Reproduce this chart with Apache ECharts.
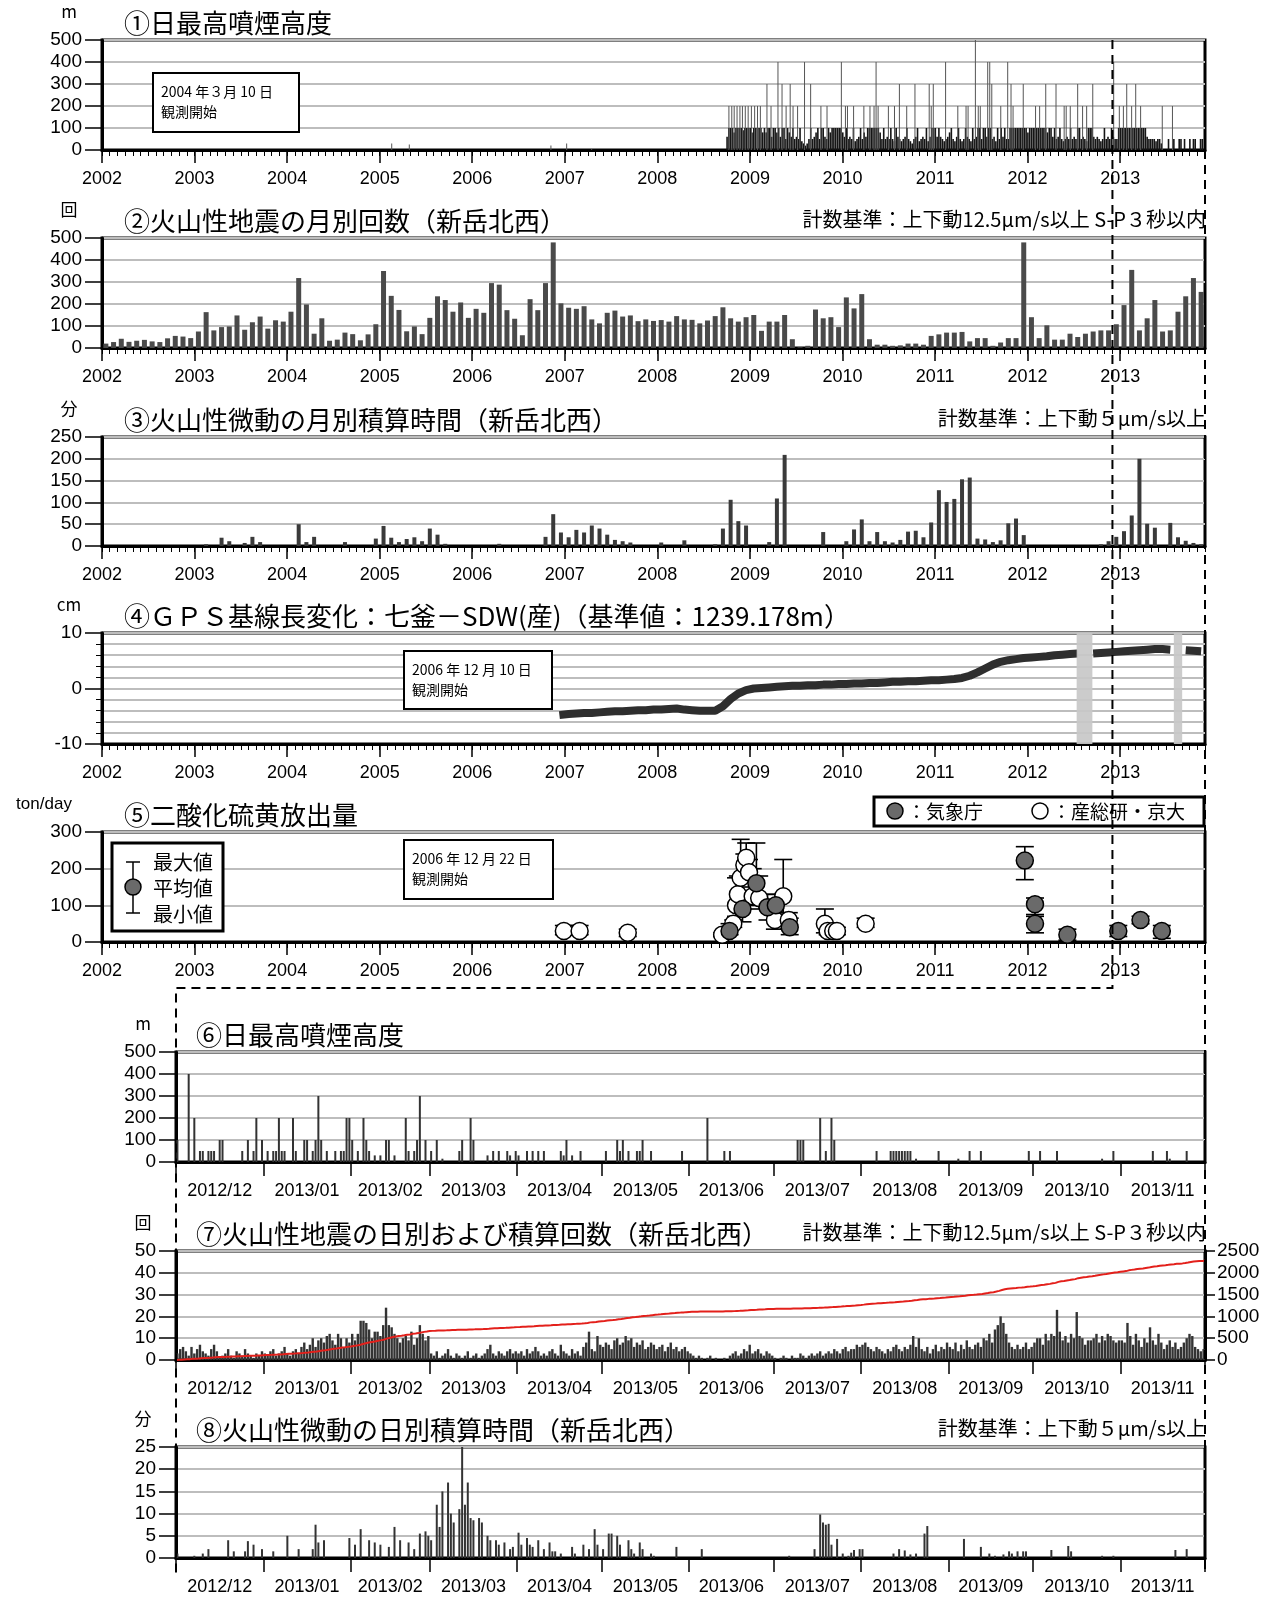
<!DOCTYPE html>
<html><head><meta charset="utf-8">
<script src="https://cdn.jsdelivr.net/npm/echarts@6/dist/echarts.min.js"></script>
<style>html,body{margin:0;padding:0;background:#fff}#c{width:1278px;height:1600px}</style>
</head><body><div id="c"></div>
<script>
// ======================= DATA =======================
const yearLabels = [2002,2003,2004,2005,2006,2007,2008,2009,2010,2011,2012,2013];
const monthLabels = ['2012/12','2013/01','2013/02','2013/03','2013/04','2013/05','2013/06','2013/07','2013/08','2013/09','2013/10','2013/11'];
const monthStartDays = [0,31,62,90,121,151,182,212,243,274,304,335,365];

// (1) daily max plume height, summarised weekly from 2008.75, plus distinct taller plumes [decimal year, m]
const plumeWeekStart = 2008.75;
const plumeWeekly = [
 60,100,100,100,80,100,100,100,100,90,100,100,100,100,80,100,100,100,100,100,80,
 100,80,100,100,60,100,100,80,100,60,100,100,50,100,80,60,100,50,
 60,50,100,40,30,20,30,50,100,50,60,80,100,50,100,100,60,50,100,80,100,100,
 100,100,100,100,80,60,100,50,60,50,100,40,50,60,100,50,80,60,100,100,100,100,100,100,100,80,50,100,50,60,
 50,100,50,40,100,60,50,40,50,60,100,50,40,30,50,60,100,40,50,60,50,100,40,60,100,100,100,60,
 100,60,50,40,50,60,80,100,50,40,60,100,50,40,50,100,60,50,40,100,50,60,100,100,50,100,
 100,60,100,100,50,60,40,100,50,100,60,100,50,50,100,100,100,100,100,100,100,100,100,100,80,100,100,100,100,100,100,100,100,100,100,80,100,100,60,100,
 50,60,100,50,40,50,60,50,100,50,60,50,100,100,50,60,50,40,100,100,100,60,50,60,50,40,50,100,50,60,50,100,60,50,50,
 100,100,100,100,100,100,100,100,100,100,100,100,100,100,100,100,60,
 50,50,50,50,40,50,50,30,
 0,0,0,50,0,0,50,0,0,50,50,0,50,0,0,50,0,50,50,0,0,50,50,0,50,0,50,50
];
const plumeSpikes = [
 [2005.13,30],[2005.32,25],[2006.85,20],[2007.02,30],[2007.29,5],
 [2008.773,200],[2008.804,200],[2008.830,200],[2008.861,200],[2008.892,200],[2008.919,200],[2008.950,200],[2008.981,200],
 [2009.016,200],[2009.051,200],[2009.082,200],[2009.113,200],[2009.184,300],[2009.228,200],[2009.303,400],[2009.347,300],
 [2009.391,200],[2009.435,300],[2009.466,200],[2009.515,200],[2009.590,400],[2009.656,300],[2009.767,200],[2009.833,200],
 [2009.988,400],[2010.032,200],[2010.054,200],[2010.120,200],[2010.231,200],[2010.297,200],[2010.341,200],[2010.363,400],
 [2010.385,200],[2010.496,200],[2010.562,200],[2010.615,300],[2010.694,200],[2010.783,300],[2010.937,300],[2010.959,200],
 [2010.981,300],[2011.114,400],[2011.246,200],[2011.335,200],[2011.357,200],[2011.436,500],[2011.467,200],[2011.489,200],
 [2011.569,400],[2011.591,400],[2011.613,300],[2011.710,200],[2011.785,400],[2011.821,300],[2011.843,200],[2011.953,300],
 [2012.086,200],[2012.130,200],[2012.196,300],[2012.307,300],[2012.395,200],[2012.417,200],[2012.461,200],[2012.541,300],
 [2012.594,200],[2012.638,200],[2012.704,300],[2012.930,400],[2012.991,200],[2013.035,200],[2013.071,300],[2013.124,200],
 [2013.168,300],[2013.221,200],[2013.455,200],[2013.565,200]
];

// (2) monthly volcanic earthquakes, Jan 2002 - Nov 2013
const quakeMonthly = [
 20,27,42,28,33,37,30,27,44,55,52,45,
 75,163,80,95,98,148,83,117,143,88,126,120,
 165,318,198,65,135,33,38,70,63,35,62,108,
 350,237,173,76,98,63,137,235,218,165,207,137,
 178,160,295,288,172,133,58,222,172,295,480,203,
 183,178,190,130,112,160,170,143,148,122,130,123,
 127,120,145,130,128,112,125,145,185,135,120,140,
 150,78,120,120,150,40,3,10,175,135,140,95,
 230,180,245,40,15,15,10,12,20,20,15,55,
 62,70,70,73,30,45,45,10,25,45,45,480,
 140,45,103,38,38,65,50,65,75,80,80,108,
 195,355,80,135,218,75,80,165,235,318,255
];

// (3) monthly tremor minutes, Jan 2002 - Nov 2013
const tremorMonthly = [
 0,0,0,0,0,0,0,0,0,0,0,0,
 0,4,0,19,11,0,7,21,9,0,0,0,
 0,50,9,21,0,0,0,9,0,0,0,17,
 46,19,9,16,20,11,40,26,5,0,0,0,
 0,0,0,5,0,0,0,0,0,21,73,31,
 20,37,31,47,40,26,14,11,8,0,0,0,
 8,0,0,13,0,0,0,4,40,106,57,47,
 0,0,9,109,209,0,0,0,0,32,0,0,
 11,38,61,11,32,11,8,14,33,35,20,54,
 128,101,108,153,157,17,15,9,13,52,63,25,
 0,0,0,0,0,0,0,0,0,4,11,21,
 34,70,200,51,42,0,53,20,12,7,4
];

// (4) GPS baseline change (cm), monthly from Dec 2006 to Nov 2013 (null = no data)
const gpsStartYearMonth = [2006, 12];
const gpsMonthly = [
 -4.8,
 -4.6,-4.5,-4.4,-4.4,-4.3,-4.2,-4.1,-4.1,-4.0,-3.9,-3.9,-3.8,
 -3.8,-3.7,-3.6,-3.8,-3.9,-4.0,-4.0,-4.0,-3.2,-1.9,-0.9,-0.3,
 0.0,0.1,0.2,0.3,0.4,0.5,0.5,0.6,0.6,0.7,0.7,0.8,
 0.8,0.9,0.9,1.0,1.0,1.1,1.2,1.2,1.3,1.3,1.4,1.5,
 1.5,1.6,1.7,1.9,2.3,2.9,3.6,4.3,4.8,5.1,5.3,5.5,
 5.6,5.7,5.8,6.0,6.1,6.2,6.3,null,6.3,6.4,6.5,6.6,
 6.7,6.8,6.9,7.0,7.1,7.1,7.0,null,6.9,6.8,6.7
];
const gpsGaps = [[2012.53,2012.70],[2013.58,2013.67]];

// (5) SO2 emission [decimal year, mean, min, max]
const so2Jma = [
 [2008.78,30,20,50],[2008.92,90,55,185],[2009.07,160,110,270],[2009.19,95,60,130],[2009.28,100,55,130],
 [2009.43,40,20,65],[2011.97,222,170,260],[2012.08,103,75,120],[2012.08,50,25,70],[2012.43,20,5,35],
 [2012.98,30,15,45],[2013.22,60,50,70],[2013.45,30,10,45]
];
const so2Aist = [
 [2006.99,30,20,45],[2007.16,30,20,45],[2007.68,25,15,35],[2008.70,20,15,25],[2008.82,50,40,60],
 [2008.85,100,70,175],[2008.87,130,100,180],[2008.90,175,140,280],[2008.94,210,170,240],[2008.96,230,200,270],
 [2008.99,190,150,225],[2009.03,125,100,200],[2009.10,120,90,180],[2009.27,60,35,85],[2009.36,125,80,225],
 [2009.42,60,35,80],[2009.81,50,25,90],[2009.84,30,20,45],[2009.90,30,20,40],[2009.94,30,20,40],[2010.25,50,40,65]
];

// (6) daily max plume height, Dec 2012 - Nov 2013 [day index from 2012/12/01, m]
const plumeDaily = [
 [0,100],[4,400],[6,200],[8,50],[9,50],[11,50],[12,50],[13,50],[15,100],[16,100],[23,50],[25,100],[27,50],[28,200],
 [30,100],[32,50],[34,50],[35,50],[36,200],[37,50],[38,50],[41,200],[42,50],[45,100],[46,100],[48,50],[49,100],[50,300],
 [51,100],[53,50],[56,50],[58,50],[59,50],[60,200],[61,200],[62,100],[64,50],[66,200],[67,100],[68,50],[70,30],[72,30],
 [74,100],[75,100],[77,30],[81,200],[82,50],[84,50],[85,100],[86,300],[88,100],[90,50],[92,100],[94,15],[100,50],[101,100],
 [104,200],[105,100],[110,30],[112,50],[114,50],[117,50],[118,30],[120,50],[121,30],[124,50],[126,50],[128,50],[130,50],
 [136,50],[137,30],[138,100],[140,30],[143,50],[152,50],[156,100],[157,50],[158,100],[160,50],[163,50],[164,50],[165,100],
 [168,50],[179,50],[188,200],[194,50],[196,50],[220,100],[221,100],[222,100],[228,200],[230,50],[232,200],[233,100],
 [248,50],[253,50],[254,50],[255,50],[256,50],[257,50],[258,50],[259,50],[260,50],[262,15],[270,50],[277,15],[281,50],
 [285,50],[302,50],[306,50],[312,50],[328,15],[332,50],[346,50],[351,50],[352,15],[358,50]
];

// (7) daily volcanic earthquakes, 2012/12/01 - 2013/11/30 (one row per month)
const quakeDaily = [
 3,5,6,4,2,6,3,5,7,4,3,2,5,7,4,1,2,3,5,2,1,4,3,2,5,3,2,1,3,2,4,
 3,2,4,5,2,3,4,6,3,2,4,5,3,6,8,5,7,10,6,9,10,8,11,12,9,7,12,10,6,10,8,
 12,9,12,18,18,17,14,10,13,13,11,16,24,16,15,12,10,8,10,11,9,13,7,10,16,12,9,11,
 3,2,4,1,2,3,5,2,1,3,2,1,2,4,1,2,3,1,2,3,5,7,3,2,4,3,2,4,5,3,4,
 3,4,2,5,3,4,6,4,2,3,2,4,5,3,2,7,4,3,2,5,3,4,2,6,8,13,5,4,11,7,
 6,8,7,5,9,10,7,8,11,9,10,6,8,7,9,5,6,8,7,5,6,7,4,6,8,5,6,4,5,6,4,
 3,2,1,2,1,0,1,2,0,1,0,0,1,0,2,3,4,2,3,5,4,7,3,4,5,3,2,4,3,2,
 1,0,1,2,1,0,2,1,1,3,2,1,2,3,2,3,4,2,3,4,3,5,4,3,5,6,4,5,5,7,6,
 7,8,6,5,4,6,5,4,3,5,4,6,7,5,4,6,5,7,11,6,10,5,4,6,3,5,7,4,6,5,8,
 6,5,8,4,7,5,9,6,5,7,8,6,10,9,12,8,14,16,20,17,12,8,6,5,7,5,6,8,5,6,
 8,10,10,7,12,9,12,11,23,13,9,11,8,12,10,22,11,10,7,9,9,10,12,8,11,9,12,11,9,8,9,
 9,8,17,11,7,12,9,6,10,8,15,9,7,12,8,5,7,9,6,8,5,6,8,10,12,11,6,5,4,5
];

// (8) daily tremor minutes [day index from 2012/12/01, minutes]
const tremorDaily = [
 [0,1],[6,0.5],[9,1],[11,2],[18,4],[20,1.5],[24,1.5],[25,3.8],[27,3],[30,2],[34,1.5],[39,5],[43,2],[48,2],[49,7.5],[50,3.5],
 [52,4],[61,4.5],[63,3],[65,6.5],[68,4],[70,3.5],[72,3],[75,2.5],[77,7],[79,4],[82,3.5],[84,2],[86,5.5],[88,6],[89,5],[90,4],
 [92,12],[93,7],[94,15],[96,17],[97,10],[98,8],[100,11],[101,25],[102,12],[103,17],[104,9],[105,8.5],[107,9],[108,8],[110,5],
 [111,4],[113,4],[114,3],[116,3.5],[118,2],[119,2.5],[121,5.7],[122,3],[124,4.5],[125,3],[126,2.5],[128,4],[130,2],[132,3.5],
 [133,1.5],[134,1.5],[136,1],[140,2.5],[141,1],[144,3],[146,2],[148,6.5],[149,3],[151,2],[153,5.5],[154,5.5],[156,5],[157,3],
 [160,4],[161,2],[162,1],[164,3.5],[165,2],[168,1],[169,0.5],[177,2.5],[186,2],[217,0.5],[226,2],[228,9.8],[229,8],[230,7.5],
 [231,7.7],[232,3],[234,4.3],[236,1],[238,0.5],[239,1.2],[240,1.8],[242,2],[243,2],[254,1],[256,2],[258,1.7],[260,0.8],[262,1],
 [265,5.5],[266,7.2],[279,4.3],[285,2.5],[288,1],[290,0.5],[293,0.8],[295,1.5],[296,1],[298,1.5],[300,1.5],[301,1.5],[310,1.8],
 [316,2.7],[317,1.5],[328,0.5],[332,0.5],[354,1.8],[358,2]
];

// ======================= TEXT =======================
const panelTitles = ['①日最高噴煙高度','②火山性地震の月別回数（新岳北西）','③火山性微動の月別積算時間（新岳北西）',
 '④ＧＰＳ基線長変化：七釜－SDW(産)（基準値：1239.178m）','⑤二酸化硫黄放出量','⑥日最高噴煙高度',
 '⑦火山性地震の日別および積算回数（新岳北西）','⑧火山性微動の日別積算時間（新岳北西）'];
const unitLabels = ['m','回','分','cm','ton/day','m','回','分'];
const criteriaText = ['', '計数基準：上下動12.5μm/s以上 S-P３秒以内', '計数基準：上下動５μm/s以上', '', '', '',
 '計数基準：上下動12.5μm/s以上 S-P３秒以内', '計数基準：上下動５μm/s以上'];
const noteTexts = [['2004 年３月 10 日','観測開始'],['2006 年 12 月 10 日','観測開始'],['2006 年 12 月 22 日','観測開始']];
const so2LegendLabels = ['最大値','平均値','最小値'];
const so2SourceLabels = ['：気象庁','：産総研・京大'];

// ======================= LAYOUT / STYLE =======================
const NUM = '"Liberation Sans", Arial, sans-serif';
const CJK = '"Noto Sans CJK JP", "Noto Sans CJK SC", sans-serif';
const GRID_TOP = [40,238,437,633,832,1052,1251,1447];
const GRID_H = [110,110,109,111,110,110,109,111];
const GRID_COLOR = '#bdbdbd';
const TOP_MAX = 143; // month index of 2013/12/01 (end of axis)

const toM = y => (y - 2002) * 12;            // decimal year -> month index
const yearTickMonths = yearLabels.map(y => (y - 2002) * 12);
const monthMidDays = monthLabels.map((_, i) => (monthStartDays[i] + monthStartDays[i + 1]) / 2);

const chart = echarts.init(document.getElementById('c'), null, {renderer: 'canvas', width: 1278, height: 1600});

const grids = GRID_TOP.map((t, i) => ({
  left: i < 5 ? 102 : 176, width: i < 5 ? 1103 : 1029, top: t, height: GRID_H[i],
  show: true, borderColor: '#000', borderWidth: 3, backgroundColor: 'transparent',
  containLabel: false, outerBoundsMode: 'none'
}));

function topXAxes(gi) {
  return [{
    type: 'value', gridIndex: gi, min: 0, max: TOP_MAX, interval: 12, position: 'bottom',
    axisLine: {show: true, onZero: false, lineStyle: {color: '#000', width: 3}},
    axisTick: {show: true, length: 13, lineStyle: {color: '#000', width: 1.5}, customValues: yearTickMonths},
    axisLabel: {show: true, margin: 20, fontSize: 18, color: '#000', fontFamily: NUM,
      customValues: yearTickMonths, formatter: v => String(2002 + Math.round(v / 12))},
    splitLine: {show: false}
  }, {
    type: 'value', gridIndex: gi, min: 0, max: TOP_MAX, interval: 1, position: 'bottom',
    axisLine: {show: false, onZero: false},
    axisTick: {show: true, length: 6, lineStyle: {color: '#000', width: 1}},
    axisLabel: {show: false}, splitLine: {show: false}
  }];
}
function bottomXAxis(gi) {
  return {
    type: 'value', gridIndex: gi, min: 0, max: 365, position: 'bottom',
    axisLine: {show: true, onZero: false, lineStyle: {color: '#000', width: 3}},
    axisTick: {show: true, length: 14, lineStyle: {color: '#000', width: 1.5}, customValues: monthStartDays},
    axisLabel: {show: true, margin: 20, fontSize: 18, color: '#000', fontFamily: NUM,
      customValues: monthMidDays, formatter: v => monthLabels[monthMidDays.indexOf(v)] || ''},
    splitLine: {show: false}
  };
}
function yAxisOf(gi, min, max, interval, extra) {
  return Object.assign({
    type: 'value', gridIndex: gi, min, max, interval,
    axisLine: {show: true, onZero: false, lineStyle: {color: '#000', width: 3}},
    axisTick: {show: true, length: 17, lineStyle: {color: '#000', width: 1.5}},
    axisLabel: {margin: 20, fontSize: 19, color: '#000', fontFamily: NUM, formatter: v => String(v)},
    splitLine: {show: true, lineStyle: {color: GRID_COLOR, width: 2}}
  }, extra || {});
}

const xAxes = [];
for (let g = 0; g < 5; g++) xAxes.push(...topXAxes(g));
xAxes.push(bottomXAxis(5), bottomXAxis(6), bottomXAxis(7));   // indices 10, 11, 12

const yAxes = [
  yAxisOf(0, 0, 500, 100),
  yAxisOf(1, 0, 500, 100),
  yAxisOf(2, 0, 250, 50),
  yAxisOf(3, -10, 10, 10, {minorTick: {show: true, splitNumber: 5, length: 6, lineStyle: {color: '#000'}},
    minorSplitLine: {show: true, lineStyle: {color: GRID_COLOR, width: 2}}}),
  yAxisOf(4, 0, 300, 100),
  yAxisOf(5, 0, 500, 100),
  yAxisOf(6, 0, 50, 10),
  yAxisOf(6, 0, 2500, 500, {position: 'right', splitLine: {show: false},
    axisTick: {show: true, length: 10, lineStyle: {color: '#000', width: 1.5}},
    axisLabel: {margin: 12, fontSize: 19, color: '#000', fontFamily: NUM, formatter: v => String(v)}}),
  yAxisOf(7, 0, 25, 5)
];

// derived series data
const plumeBaseData = plumeWeekly.map((v, i) => [toM(plumeWeekStart) + i * 12 / 52, v]);
const plumeSpikeData = plumeSpikes.map(([y, v]) => [toM(y), v]);
const quakeMonthData = quakeMonthly.map((v, i) => [i + 0.5, v]);
const tremorMonthData = tremorMonthly.map((v, i) => [i + 0.5, v]).filter(d => d[1] > 0);
const gpsStartM = (gpsStartYearMonth[0] - 2002) * 12 + gpsStartYearMonth[1] - 1;
const gpsData = gpsMonthly.map((v, i) => [gpsStartM + i + 0.5, v]);
gpsData[0][0] = gpsStartM + 0.3;
const gpsGapData = gpsGaps.map(([a, b]) => [toM(a), toM(b), -10, 10]);
const so2JmaData = so2Jma.map(([y, m, lo, hi]) => [toM(y), m, lo, hi]);
const so2AistData = so2Aist.map(([y, m, lo, hi]) => [toM(y), m, lo, hi]);
const plumeDailyData = plumeDaily.map(([d, v]) => [d + 0.5, v]);
const quakeDailyData = quakeDaily.map((v, i) => [i + 0.5, v]);
let run = 0;
const quakeCumData = [[0, 0]].concat(quakeDaily.map((v, i) => { run += v; return [i + 1, run]; }));
const tremorDailyData = tremorDaily.map(([d, v]) => [d + 0.5, v]);

function errorBars(params, api) {
  const x = api.value(0), lo = api.value(2), hi = api.value(3);
  const a = api.coord([x, lo]), b = api.coord([x, hi]);
  const w = 9, st = {stroke: '#000', lineWidth: 1.6};
  return {type: 'group', children: [
    {type: 'line', shape: {x1: a[0], y1: a[1], x2: b[0], y2: b[1]}, style: st},
    {type: 'line', shape: {x1: b[0] - w, y1: b[1], x2: b[0] + w, y2: b[1]}, style: st},
    {type: 'line', shape: {x1: a[0] - w, y1: a[1], x2: a[0] + w, y2: a[1]}, style: st}
  ]};
}
function gapBands(params, api) {
  const a = api.coord([api.value(0), api.value(3)]), b = api.coord([api.value(1), api.value(2)]);
  return {type: 'rect', shape: {x: a[0], y: a[1], width: b[0] - a[0], height: b[1] - a[1]},
    style: {fill: 'rgba(200,200,200,0.92)'}};
}

const series = [
  {type: 'bar', xAxisIndex: 0, yAxisIndex: 0, data: plumeBaseData, barWidth: 1.6, barGap: '-100%', itemStyle: {color: '#151515'}},
  {type: 'bar', xAxisIndex: 0, yAxisIndex: 0, data: plumeSpikeData, barWidth: 1, barGap: '-100%', itemStyle: {color: '#555'}},
  {type: 'bar', xAxisIndex: 2, yAxisIndex: 1, data: quakeMonthData, barWidth: 5, itemStyle: {color: '#4a4a4a'}},
  {type: 'bar', xAxisIndex: 4, yAxisIndex: 2, data: tremorMonthData, barWidth: 4, itemStyle: {color: '#3a3a3a'}},
  {type: 'line', xAxisIndex: 6, yAxisIndex: 3, data: gpsData, symbol: 'none', connectNulls: false,
    lineStyle: {color: '#2e2e2e', width: 8}, z: 3},
  {type: 'custom', xAxisIndex: 6, yAxisIndex: 3, data: gpsGapData, renderItem: gapBands,
    encode: {x: [0, 1], y: [2, 3]}, z: 5},
  {type: 'custom', xAxisIndex: 8, yAxisIndex: 4, data: so2AistData, renderItem: errorBars, encode: {x: 0, y: [1, 2, 3]}, z: 3},
  {type: 'custom', xAxisIndex: 8, yAxisIndex: 4, data: so2JmaData, renderItem: errorBars, encode: {x: 0, y: [1, 2, 3]}, z: 3},
  {type: 'scatter', name: so2SourceLabels[1], xAxisIndex: 8, yAxisIndex: 4, data: so2AistData.map(d => [d[0], d[1]]),
    symbolSize: 17, itemStyle: {color: '#fff', borderColor: '#000', borderWidth: 1.5, opacity: 1}, z: 4},
  {type: 'scatter', name: so2SourceLabels[0], xAxisIndex: 8, yAxisIndex: 4, data: so2JmaData.map(d => [d[0], d[1]]),
    symbolSize: 17, itemStyle: {color: '#6a6a6a', borderColor: '#000', borderWidth: 1.5, opacity: 1}, z: 4},
  {type: 'bar', xAxisIndex: 10, yAxisIndex: 5, data: plumeDailyData, barWidth: 2, itemStyle: {color: '#333'}},
  {type: 'bar', xAxisIndex: 11, yAxisIndex: 6, data: quakeDailyData, barWidth: 2.4, itemStyle: {color: '#333'}},
  {type: 'line', xAxisIndex: 11, yAxisIndex: 7, data: quakeCumData, symbol: 'none', lineStyle: {color: '#e3201b', width: 2}, z: 4},
  {type: 'bar', xAxisIndex: 12, yAxisIndex: 8, data: tremorDailyData, barWidth: 2, itemStyle: {color: '#333'}}
];

chart.setOption({animation: false, backgroundColor: '#fff', grid: grids, xAxis: xAxes, yAxis: yAxes, series: series});

// ======================= TEXT & DECORATION =======================
const G = [];
function txt(x, y, text, font, align, extra) {
  G.push(Object.assign({type: 'text', x, y, z: 100,
    style: {text, font, fill: '#000', textAlign: align || 'left', textVerticalAlign: 'middle'}}, extra || {}));
}
function box(x, y, w, h, lw) {
  G.push({type: 'rect', z: 99, shape: {x, y, width: w, height: h},
    style: {fill: '#fff', stroke: '#000', lineWidth: lw || 2}});
}
GRID_TOP.forEach((t, i) => {
  txt(i < 5 ? 124 : 196, t - 17, panelTitles[i], '26px ' + CJK);
  if (i === 4) txt(44, t - 28, unitLabels[i], '17px ' + NUM, 'center');
  else txt(i < 5 ? 69 : 143, t - 28, unitLabels[i], '17px ' + CJK, 'center');
  if (criteriaText[i]) txt(1206, t - 19, criteriaText[i], '20px ' + CJK, 'right');
});
// observation-start notes
const noteBoxes = [[153, 73, 146, 59], [404, 651, 148, 58], [404, 840, 149, 59]];
noteBoxes.forEach(([x, y, w, h], k) => {
  box(x, y, w, h, 2);
  txt(x + 8, y + 19, noteTexts[k][0], '14px ' + CJK);
  txt(x + 8, y + 39, noteTexts[k][1], '14px ' + CJK);
});
// SO2 symbol legend (left)
box(112, 843, 111, 88, 3);
G.push({type: 'line', z: 101, shape: {x1: 133, y1: 862, x2: 133, y2: 913}, style: {stroke: '#000', lineWidth: 1.5}});
G.push({type: 'line', z: 101, shape: {x1: 126, y1: 862, x2: 140, y2: 862}, style: {stroke: '#000', lineWidth: 1.5}});
G.push({type: 'line', z: 101, shape: {x1: 126, y1: 913, x2: 140, y2: 913}, style: {stroke: '#000', lineWidth: 1.5}});
G.push({type: 'circle', z: 102, shape: {cx: 133, cy: 887, r: 8}, style: {fill: '#6a6a6a', stroke: '#000', lineWidth: 1.5}});
so2LegendLabels.forEach((s, k) => txt(153, 862 + k * 26, s, '20px ' + CJK));
// SO2 source legend (right)
box(874, 797, 330, 29, 3);
G.push({type: 'circle', z: 102, shape: {cx: 895, cy: 811, r: 8}, style: {fill: '#6a6a6a', stroke: '#000', lineWidth: 1.5}});
txt(907, 812, so2SourceLabels[0], '19px ' + CJK);
G.push({type: 'circle', z: 102, shape: {cx: 1040, cy: 811, r: 8}, style: {fill: '#fff', stroke: '#000', lineWidth: 1.5}});
txt(1052, 812, so2SourceLabels[1], '19px ' + CJK);

// dashed connectors (positions from the axes)
const xDec2012 = chart.convertToPixel({xAxisIndex: 0}, toM(2012 + 11 / 12));
const xEndTop = chart.convertToPixel({xAxisIndex: 0}, TOP_MAX);
const xStartBottom = chart.convertToPixel({xAxisIndex: 10}, 0);
const yConnector = 988;
const dash = {stroke: '#000', lineWidth: 2, lineDash: [9, 6], fill: null};
G.push({type: 'polyline', z: 110, shape: {points: [[xDec2012, GRID_TOP[0]], [xDec2012, yConnector], [xStartBottom, yConnector], [xStartBottom, 1574]]}, style: dash});
G.push({type: 'line', z: 110, shape: {x1: xEndTop, y1: GRID_TOP[0] + GRID_H[0], x2: xEndTop, y2: 1574}, style: dash});

chart.setOption({graphic: {elements: G}});
</script></body></html>
